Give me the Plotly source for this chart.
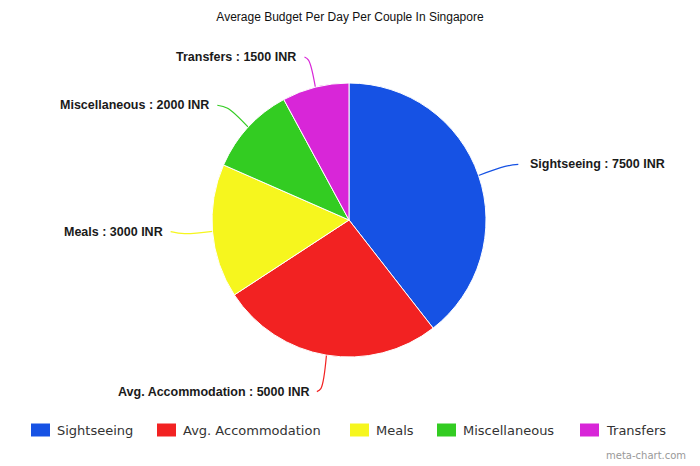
import math
import plotly.graph_objects as go

# ---- data ----
categories = ["Sightseeing", "Avg. Accommodation", "Meals", "Miscellaneous", "Transfers"]
values = [7500, 5000, 3000, 2000, 1500]
unit = "INR"
colors = ["#1652e4", "#f22222", "#f6f61e", "#33cc22", "#d826d8"]
title = "Average Budget Per Day Per Couple In Singapore"

# ---- layout geometry (pixels) ----
W, H = 700, 466
cx, cy, r = 349, 220, 137
legend_left = [31, 157, 350, 437, 580]   # legend item left edges (layout)
legend_y = 430

fig = go.Figure()

fig.add_trace(go.Pie(
    labels=categories, values=values, sort=False, direction="clockwise", rotation=0,
    marker=dict(colors=colors, line=dict(color="white", width=1)),
    textinfo="none", hoverinfo="label+value+percent",
    domain=dict(x=[(cx - r) / W, (cx + r) / W], y=[1 - (cy + r) / H, 1 - (cy - r) / H]),
    showlegend=False,
))

# leader lines and labels computed from slice angles
total = sum(values)
cum = 0
annotations = []
shapes = []
for cat, v, col in zip(categories, values, colors):
    mid = (cum + v / 2) / total * 2 * math.pi
    cum += v
    dx, dy = math.sin(mid), -math.cos(mid)
    side = 1 if dx >= 0 else -1
    p0 = (cx + r * dx, cy + r * dy)
    d = 28 if dy < 0.5 else 34
    p1 = (cx + (r + d) * dx, cy + (r + d) * dy)
    hoff = max(4, 14 * abs(dx))
    voff = 3 if dy > 0.5 else (-3 if dy < -0.5 else -2)
    p2 = (p1[0] + side * hoff, p1[1] + voff)
    fig.add_trace(go.Scatter(
        x=[p0[0], p1[0], p2[0]], y=[p0[1], p1[1], p2[1]], mode="lines",
        line=dict(color=col, width=1.2, shape="spline"),
        hoverinfo="skip", showlegend=False, xaxis="x", yaxis="y",
    ))
    gap = 10 if side > 0 else 6
    annotations.append(dict(
        x=p2[0] + side * gap, y=p2[1], xref="x", yref="y",
        text=f"<b>{cat} : {v} {unit}</b>", showarrow=False,
        xanchor="left" if side > 0 else "right", yanchor="middle",
        font=dict(family="Liberation Sans, Arial, sans-serif", size=12.5, color="#1a1a1a"),
    ))

# legend drawn from categories / colors
for cat, col, lx in zip(categories, colors, legend_left):
    shapes.append(dict(type="rect", xref="x", yref="y", x0=lx, x1=lx + 19,
                       y0=legend_y - 6.5, y1=legend_y + 6.5,
                       fillcolor=col, line=dict(width=0)))
    annotations.append(dict(
        x=lx + 24, y=legend_y, xref="x", yref="y", xanchor="left", yanchor="middle",
        text=cat, showarrow=False,
        font=dict(family="DejaVu Sans, sans-serif", size=13, color="#333333"),
    ))

annotations.append(dict(
    x=688, y=455, xref="x", yref="y", xanchor="right", yanchor="middle",
    text="meta-chart.com", showarrow=False,
    font=dict(family="DejaVu Sans, sans-serif", size=10, color="#999999"),
))

fig.update_layout(
    width=W, height=H,
    margin=dict(l=0, r=0, t=0, b=0),
    paper_bgcolor="white", plot_bgcolor="rgba(0,0,0,0)",
    title=dict(text=title, x=0.5, xanchor="center", y=1 - 17 / H, yanchor="middle",
               font=dict(family="Liberation Sans, Arial, sans-serif", size=12, color="#111111")),
    xaxis=dict(range=[0, W], visible=False, fixedrange=True),
    yaxis=dict(range=[H, 0], visible=False, fixedrange=True),
    showlegend=False,
    annotations=annotations,
    shapes=shapes,
)

fig.write_html("out.html", config={"displayModeBar": False},
               post_script="document.body.style.margin='0';")
